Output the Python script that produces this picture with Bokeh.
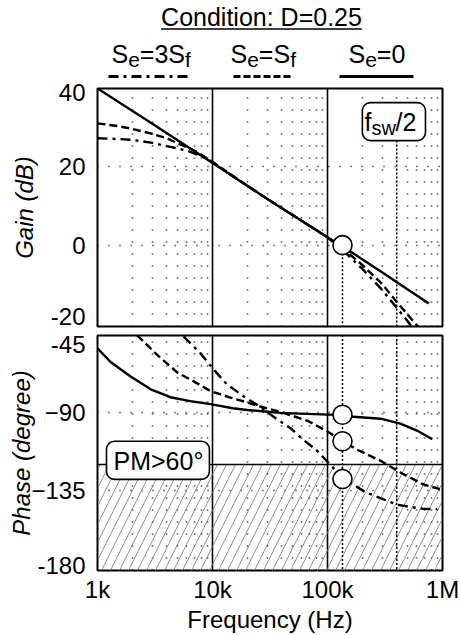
from bokeh.plotting import figure
from bokeh.layouts import column
from bokeh.models import Range1d, FixedTicker, BoxAnnotation, Label, ColumnDataSource
from bokeh.core.properties import value, field
from bokeh.embed import file_html
from bokeh.resources import INLINE

FONT = "Liberation Sans"

# ---------------- data ----------------
title_text = "Condition: D=0.25"
freq_ticks = [1e3, 1e4, 1e5, 1e6]
freq_tick_labels = ["1k", "10k", "100k", "1M"]
freq_minor = [m * 10 ** k for k in (3, 4, 5) for m in range(2, 10)]
gain_ticks = [40, 20, 0, -20]
gain_grid = [20, 0]
phase_ticks = [-45, -90, -135, -180]
phase_grid = [-90, -135]

# Gain (dB)
f_gain_se0 = [1e3, 3e3, 1e4, 3e4, 1e5, 1.35e5, 3e5, 7.6e5]
gain_se0 = [40.0, 31.0, 21.0, 11.8, 2.0, -0.3, -7.0, -14.9]

f_gain_sesf = [1e3, 1.5e3, 2e3, 3e3, 4e3, 5e3, 6e3, 7e3, 8.5e3, 1e4, 1.5e4, 3e4, 1e5,
               1.35e5, 2e5, 3e5, 4e5, 5e5, 6.2e5]
gain_sesf = [31.1, 30.4, 29.7, 28.4, 27.3, 26.0, 25.0, 24.1, 22.6, 21.3, 17.7, 11.8, 2.0,
             -0.8, -5.0, -10.0, -14.5, -17.8, -21.0]

f_gain_se3sf = [1e3, 1.5e3, 2e3, 3e3, 4e3, 5e3, 6e3, 7e3, 8.5e3, 1e4, 1.5e4, 3e4, 1e5,
                1.35e5, 2e5, 3e5, 4e5, 5e5, 5.5e5]
gain_se3sf = [27.3, 27.1, 26.9, 26.1, 25.3, 24.7, 24.1, 23.4, 22.4, 21.2, 17.6, 11.8, 2.0,
              -1.2, -6.0, -11.5, -16.0, -19.5, -21.2]

# Phase (degree)
f_ph_se0 = [1e3, 1.3e3, 1.94e3, 2.9e3, 4.3e3, 6.4e3, 9.6e3, 1.5e4, 2e4, 3.9e4, 1e5,
            1.35e5, 1.68e5, 2.9e5, 4.3e5, 6e5, 8.15e5]
ph_se0 = [-52.4, -60.4, -68.9, -76.3, -80.9, -83.2, -84.9, -87.3, -88.3, -90.0, -91.0,
          -91.1, -92.3, -93.4, -96.3, -100.3, -105.4]

f_ph_sesf = [2.2e3, 2.36e3, 3.32e3, 4.96e3, 6.43e3, 9.6e3, 1.43e4, 2e4, 2.5e4, 3.9e4,
             6.7e4, 1e5, 1.35e5, 1.83e5, 2.9e5, 4.3e5, 6.8e5, 9.5e5]
ph_sesf = [-45.0, -46.7, -56.4, -66.6, -70.6, -77.3, -81.1, -83.9, -86.0, -89.4,
           -94.6, -100.8, -106.5, -111.6, -117.9, -124.7, -131.6, -134.4]

f_ph_se3sf = [5.6e3, 7.86e3, 1.026e4, 1.34e4, 1.86e4, 2.6e4, 3.4e4, 4.8e4, 6.1e4, 8e4,
              1.15e5, 1.35e5, 2.13e5, 4.05e5, 6.7e5, 9e5]
ph_se3sf = [-45.5, -55.4, -64.9, -73.5, -80.3, -86.5, -92.3, -99.1, -105.4, -111.6,
            -122.8, -127.8, -136.1, -143.5, -145.8, -146.0]

# crossover markers and limits
f_cross = 1.35e5
gain_cross = [0.0]
phase_cross = [-91.1, -106.5, -128.5]
f_half_sw = 4.0e5
pm_limit = -120

legend_parts = [
    [("S", 0), ("e", 1), ("=3S", 0), ("f", 1)],
    [("S", 0), ("e", 1), ("=S", 0), ("f", 1)],
    [("S", 0), ("e", 1), ("=0", 0)],
]
legend_dash = ["10 5 3 5", "7 3", "solid"]

# ---------------- styling helpers ----------------
W = {"S": 0.667, "e": 0.556, "=": 0.584, "3": 0.556, "f": 0.278, "0": 0.556,
     "C": 0.722, "o": 0.556, "n": 0.556, "d": 0.556, "i": 0.222, "t": 0.278,
     ":": 0.278, " ": 0.278, "D": 0.722, ".": 0.278, "2": 0.556, "5": 0.556}


def twidth(s, size):
    return sum(W.get(c, 0.556) for c in s) * size


BIG, SMALL = 25, 21
TXT_SHIFT = 9          # px: alphabetic-baseline correction
LINE_W = 2.4
dash_dot = "10 5 3 5"
dashed = "8 4"
dense_dot = "2 2"
L, R = 97, 18          # frame borders (px)
G_PX = 238 / (40.0 + 20.77)      # px per dB
P_PX = 240 / (181.7 - 45.0)      # px per degree


def style_common(p):
    p.outline_line_color = "black"
    p.outline_line_width = 2
    p.background_fill_color = "white"
    p.border_fill_color = "white"
    xg = p.xgrid[0]
    xg.ticker = FixedTicker(ticks=freq_ticks, minor_ticks=freq_minor)
    xg.grid_line_color = "black"
    xg.grid_line_width = 1.6
    xg.minor_grid_line_color = "black"
    xg.minor_grid_line_width = 1.6
    xg.minor_grid_line_dash = "1 11"
    yg = p.ygrid[0]
    yg.grid_line_color = "black"
    yg.grid_line_width = 1.6
    yg.grid_line_dash = "1 10"
    for ax in p.yaxis:
        ax.major_label_text_font = FONT
        ax.major_label_text_font_size = "24px"
        ax.major_label_text_color = "black"
        ax.axis_label_text_font = FONT
        ax.axis_label_text_font_size = "24px"
        ax.axis_label_text_font_style = "italic"
        ax.axis_label_text_color = "black"
        ax.axis_line_color = None
        ax.major_tick_line_color = None
        ax.minor_tick_line_color = None
        ax.major_tick_out = 0
        ax.major_tick_in = 0
        ax.minor_tick_out = 0
        ax.major_label_standoff = 12


# ---------------- header ----------------
HH = 78
ph = figure(width=460, height=HH, x_range=Range1d(L, 460 - R), y_range=Range1d(0, HH),
            toolbar_location=None, output_backend="svg", min_border_left=L,
            min_border_right=R, min_border_top=0, min_border_bottom=0,
            x_axis_location=None, y_axis_location=None)
ph.grid.visible = False
ph.outline_line_color = None
ph.background_fill_color = "white"
ph.border_fill_color = "white"

tw = twidth(title_text, BIG)
ph.text(x=[261], y=[HH - 25 + TXT_SHIFT], text=[title_text], text_font=value(FONT),
        text_font_size=value(f"{BIG}px"), text_align="center", text_baseline="alphabetic",
        text_color="black")
ph.line(x=[261 - tw / 2, 261 + tw / 2], y=[HH - 28.5] * 2, line_color="black", line_width=1.5)

leg_x0 = [111, 230, 348]
leg_line = [(108, 187), (233, 293), (339, 413)]
xs, ys, ts, ss = [], [], [], []
for parts, x0 in zip(legend_parts, leg_x0):
    x = x0
    for txt, sub in parts:
        size = SMALL if sub else BIG
        xs.append(x)
        ys.append(HH - (68 if sub else 62) + TXT_SHIFT)
        ts.append(txt)
        ss.append(f"{size}px")
        x += twidth(txt, size)
src = ColumnDataSource(dict(x=xs, y=ys, text=ts, size=ss))
ph.text(x="x", y="y", text="text", source=src, text_font=value(FONT),
        text_font_size=field("size"), text_baseline="alphabetic", text_color="black")
for (a, b), d in zip(leg_line, legend_dash):
    ph.line(x=[a, b], y=[HH - 76] * 2, line_color="black", line_width=3, line_dash=d)

# ---------------- gain panel ----------------
p1 = figure(width=460, height=252, x_axis_type="log", x_range=Range1d(1e3, 1e6),
            y_range=Range1d(-20.77, 40.0), x_axis_location=None,
            toolbar_location=None, output_backend="svg",
            min_border_left=L, min_border_right=R, min_border_top=10, min_border_bottom=4)
style_common(p1)
p1.ygrid[0].ticker = FixedTicker(ticks=gain_grid)
g_pos = [gain_ticks[0] - 3.5 / G_PX, gain_ticks[1], gain_ticks[2], gain_ticks[3] + 6.5 / G_PX]
p1.yaxis.ticker = FixedTicker(ticks=g_pos)
p1.yaxis.major_label_overrides = {g_pos[0]: str(gain_ticks[0]), g_pos[3]: str(gain_ticks[3])}
p1.yaxis.axis_label = "Gain (dB)"
p1.yaxis.axis_label_standoff = 10

p1.segment(x0=[f_cross, f_half_sw], y0=[gain_cross[0], 26.7], x1=[f_cross, f_half_sw],
           y1=[-30, -30], line_color="black", line_width=1.5, line_dash=value(dense_dot))

p1.line(f_gain_se3sf, gain_se3sf, line_color="black", line_width=LINE_W, line_dash=dash_dot)
p1.line(f_gain_sesf, gain_sesf, line_color="black", line_width=LINE_W, line_dash=dashed)
p1.line(f_gain_se0, gain_se0, line_color="black", line_width=LINE_W)
p1.scatter(x=[f_cross], y=gain_cross, size=19, fill_color="white", line_color="black",
           line_width=1.6)

box1 = BoxAnnotation(left=2.01e5, right=7.11e5, bottom=26.7, top=36.4, fill_color="white",
                     fill_alpha=1, line_color="black", line_alpha=1, line_width=1.6,
                     border_radius=8)
p1.add_layout(box1)
for txt, xo, ypx, sz in [("f", 0, 130, BIG), ("sw", 7, 136, 20), ("/2", 31, 130, BIG)]:
    yv = 40.0 - (ypx - TXT_SHIFT - 88) / G_PX
    p1.add_layout(Label(x=2.1e5, y=yv, x_offset=xo, text=txt, text_font=FONT,
                        text_font_size=f"{sz}px", text_baseline="alphabetic",
                        text_color="black"))

# ---------------- phase panel ----------------
p2 = figure(width=460, height=305, x_axis_type="log", x_range=Range1d(1e3, 1e6),
            y_range=Range1d(-181.7, -45.0),
            toolbar_location=None, output_backend="svg",
            min_border_left=L, min_border_right=R, min_border_top=5, min_border_bottom=60)
style_common(p2)
p2.ygrid[0].ticker = FixedTicker(ticks=phase_grid)
p_pos = [phase_ticks[0] - 9.0 / P_PX] + phase_ticks[1:3] + [phase_ticks[3] + 2.0 / P_PX]
p2.yaxis.ticker = FixedTicker(ticks=p_pos)
p2.yaxis.major_label_overrides = {p_pos[0]: str(phase_ticks[0]), p_pos[3]: str(phase_ticks[3])}
p2.yaxis.axis_label = "Phase (degree)"
p2.yaxis.axis_label_standoff = -7

xa = p2.xaxis[0]
xa.ticker = FixedTicker(ticks=freq_ticks)
xa.major_label_overrides = {t: l for t, l in zip(freq_ticks, freq_tick_labels)}
xa.major_label_text_font = FONT
xa.major_label_text_font_size = "24px"
xa.major_label_text_color = "black"
xa.axis_label = "Frequency (Hz)"
xa.axis_label_text_font = FONT
xa.axis_label_text_font_size = "24px"
xa.axis_label_text_font_style = "normal"
xa.axis_label_text_color = "black"
xa.axis_line_color = None
xa.major_tick_line_color = None
xa.minor_tick_line_color = None
xa.major_tick_out = 0
xa.major_tick_in = 0
xa.minor_tick_out = 0
xa.major_label_standoff = 5
xa.axis_label_standoff = 0

p2.quad(left=[1e3], right=[1e6], top=[pm_limit], bottom=[-200], fill_alpha=0,
        line_color=None, hatch_pattern="/", hatch_color="#777777", hatch_weight=0.8,
        hatch_scale=18)
p2.line(x=[1e3, 1e6], y=[pm_limit, pm_limit], line_color="black", line_width=1.6)
p2.segment(x0=[f_cross, f_half_sw], y0=[-40, -40], x1=[f_cross, f_half_sw], y1=[-200, -200],
           line_color="black", line_width=1.5, line_dash=value(dense_dot))

p2.line(f_ph_se3sf, ph_se3sf, line_color="black", line_width=LINE_W, line_dash=dash_dot)
p2.line(f_ph_sesf, ph_sesf, line_color="black", line_width=LINE_W, line_dash=dashed)
p2.line(f_ph_se0, ph_se0, line_color="black", line_width=LINE_W)
p2.scatter(x=[f_cross] * len(phase_cross), y=phase_cross, size=19, fill_color="white",
           line_color="black", line_width=1.6)

box2 = BoxAnnotation(left=1.197e3, right=9.4e3, bottom=-128.7, top=-106.5, fill_color="white",
                     fill_alpha=1, line_color="black", line_alpha=1, line_width=1.6,
                     border_radius=8)
p2.add_layout(box2)
p2.add_layout(Label(x=3.39e3, y=-45.0 - (471.7 - TXT_SHIFT - 335) / P_PX, text="PM>60°",
                    text_font=FONT, text_font_size=f"{BIG}px", text_align="center",
                    text_baseline="alphabetic", text_color="black"))

layout = column(ph, p1, p2, spacing=0)
open("out.html", "w").write(file_html(layout, INLINE))
